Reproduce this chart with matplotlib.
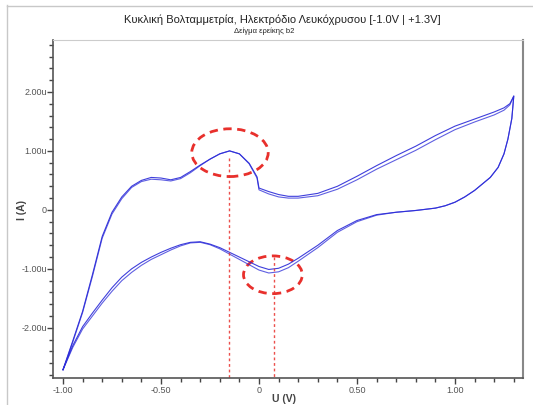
import matplotlib
matplotlib.use("Agg")
import matplotlib.pyplot as plt
from matplotlib.patches import Ellipse
from matplotlib.lines import Line2D
from matplotlib.ticker import MultipleLocator, FixedLocator, FixedFormatter

plt.rcParams['font.family'] = ['Liberation Sans', 'DejaVu Sans']
plt.rcParams['axes.unicode_minus'] = False

# anodic sweep -1.0 -> +1.3 V  (current in uA)
fwd_v = [-1.0, -0.95, -0.9, -0.85, -0.8, -0.75, -0.7, -0.65, -0.6, -0.55, -0.5, -0.45,
         -0.4, -0.35, -0.3, -0.25, -0.2, -0.15, -0.1, -0.05, -0.01, 0.0, 0.05, 0.1,
         0.15, 0.2, 0.3, 0.4, 0.5, 0.6, 0.7, 0.8, 0.9, 1.0, 1.1, 1.2, 1.25, 1.28, 1.3]
fwd_i1 = [-2.71, -2.22, -1.72, -1.10, -0.45, -0.04, 0.22, 0.40, 0.50, 0.55, 0.54, 0.51,
          0.55, 0.65, 0.76, 0.86, 0.95, 1.00, 0.95, 0.79, 0.56, 0.37, 0.31, 0.26,
          0.23, 0.23, 0.28, 0.40, 0.57, 0.75, 0.92, 1.08, 1.26, 1.42, 1.54, 1.66, 1.73, 1.80, 1.93]
fwd_i2 = [-2.71, -2.24, -1.74, -1.13, -0.48, -0.07, 0.19, 0.38, 0.48, 0.52, 0.51, 0.49,
          0.53, 0.63, 0.75, 0.86, 0.95, 1.00, 0.95, 0.78, 0.54, 0.34, 0.27, 0.22,
          0.20, 0.20, 0.24, 0.35, 0.51, 0.69, 0.85, 1.01, 1.19, 1.36, 1.49, 1.61, 1.69, 1.78, 1.93]

# cathodic sweep +1.3 -> -1.0 V
rev_v = [1.3, 1.29, 1.27, 1.25, 1.22, 1.18, 1.14, 1.1, 1.05, 1.0, 0.95, 0.9, 0.8, 0.7,
         0.6, 0.5, 0.4, 0.3, 0.2, 0.15, 0.1, 0.05, 0.0, -0.05, -0.1, -0.15, -0.2, -0.25,
         -0.3, -0.35, -0.4, -0.45, -0.5, -0.55, -0.6, -0.65, -0.7, -0.75, -0.8, -0.85,
         -0.9, -0.95, -1.0]
rev_i1 = [1.93, 1.55, 1.20, 0.95, 0.72, 0.55, 0.44, 0.33, 0.22, 0.13, 0.07, 0.03, -0.01, -0.04,
          -0.08, -0.18, -0.35, -0.60, -0.82, -0.92, -0.99, -1.01, -0.96, -0.88, -0.80, -0.72, -0.64, -0.58,
          -0.54, -0.55, -0.59, -0.65, -0.72, -0.80, -0.89, -1.00, -1.14, -1.32, -1.53, -1.75,
          -1.98, -2.30, -2.71]
rev_i2 = [1.93, 1.55, 1.20, 0.95, 0.72, 0.55, 0.44, 0.33, 0.22, 0.13, 0.07, 0.03, -0.01, -0.04,
          -0.09, -0.20, -0.38, -0.64, -0.87, -0.98, -1.05, -1.07, -1.02, -0.93, -0.84, -0.75, -0.66, -0.59,
          -0.55, -0.56, -0.61, -0.68, -0.76, -0.84, -0.94, -1.06, -1.20, -1.38, -1.58, -1.80,
          -2.02, -2.33, -2.71]

# marked peaks: (V, I, width V, height uA)
peak_ox = (-0.148, 0.97, 0.39, 0.81)
peak_red = (0.071, -1.10, 0.30, 0.64)
mark_v = [-0.153, 0.077]
mark_top = [0.88, -0.80]

x_major = [-1.0, -0.5, 0.0, 0.5, 1.0]
x_labels = ['-1.00', '-0.50', '0', '0.50', '1.00']
y_major = [-2.0, -1.0, 0.0, 1.0, 2.0]
y_labels = ['-2.00u', '-1.00u', '0', '1.00u', '2.00u']

fig = plt.figure(figsize=(5.33, 4.05), dpi=100)
ax = fig.add_axes([53/533, 1-378/405, 470/533, 338/405])

blue = '#2a2ad8'
ax.plot(fwd_v + rev_v, fwd_i1 + rev_i1, color=blue, lw=0.8, alpha=0.9)
ax.plot(fwd_v + rev_v, fwd_i2 + rev_i2, color=blue, lw=0.8, alpha=0.75)

red = '#e8302c'
for v, i, w, h in (peak_ox, peak_red):
    ax.add_patch(Ellipse((v, i), w, h, fill=False, ec=red, lw=2, ls=(0, (3, 2))))
for v, top in zip(mark_v, mark_top):
    ax.plot([v, v], [top, -2.85], color=red, lw=1, ls=(0, (2, 2)), alpha=0.85)

ax.set_xlim(-1.051, 1.347)
ax.set_ylim(-2.85, 2.88)

ax.xaxis.set_major_locator(FixedLocator(x_major))
ax.xaxis.set_major_formatter(FixedFormatter(x_labels))
ax.xaxis.set_minor_locator(MultipleLocator(0.1))
ax.yaxis.set_major_locator(FixedLocator(y_major))
ax.yaxis.set_major_formatter(FixedFormatter(y_labels))
ax.yaxis.set_minor_locator(MultipleLocator(0.2))
ax.tick_params(which='both', direction='out', color='#444444', width=1,
               labelsize=6.5, labelcolor='#555555')
ax.tick_params(axis='x', pad=2)
ax.tick_params(axis='y', pad=0.5)
ax.tick_params(which='major', length=4)
ax.tick_params(which='minor', length=3)

for side in ['left', 'bottom']:
    ax.spines[side].set_color('#555555')
    ax.spines[side].set_linewidth(1.2)
ax.spines['top'].set_color('#cccccc')
ax.spines['top'].set_linewidth(0.8)
ax.spines['right'].set_color('#888888')
ax.spines['right'].set_linewidth(1.5)

fig.text(22/533, 1-210/405, 'I (A)', rotation=90, ha='center', va='center',
         fontsize=7.5, fontweight='bold', color='#444444')
fig.text(284/533, 1-399/405, 'U (V)', ha='center', va='center',
         fontsize=7.5, fontweight='bold', color='#444444')
fig.text(282/533, 1-20/405, 'Κυκλική Βολταμμετρία, Ηλεκτρόδιο Λευκόχρυσου [-1.0V | +1.3V]',
         ha='center', va='center', fontsize=8, color='#222222')
fig.text(264/533, 1-31/405, 'Δείγμα ερείκης b2', ha='center', va='center',
         fontsize=5.5, color='#222222')

# outer frame of the screenshot
fig.add_artist(Line2D([6.5/533, 6.5/533], [0, 1-5/405], color='#c8c8c8', lw=1))
fig.add_artist(Line2D([6.5/533, 1], [1-5.5/405, 1-5.5/405], color='#c8c8c8', lw=1))

fig.savefig('out.png', dpi=100)
